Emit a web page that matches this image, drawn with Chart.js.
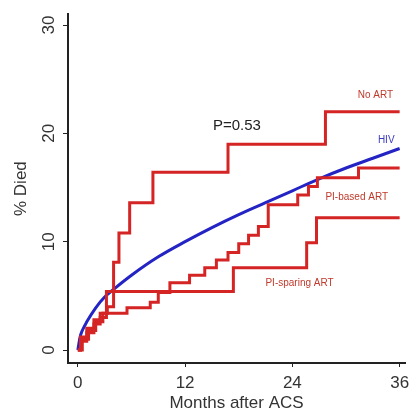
<!DOCTYPE html>
<html>
<head>
<meta charset="utf-8">
<script src="https://cdn.jsdelivr.net/npm/chart.js@4/dist/chart.umd.min.js"></script>
<style>
  html, body { margin: 0; padding: 0; background: #fff; }
  #wrap { width: 409px; height: 412px; }
</style>
</head>
<body>
<div id="wrap"><canvas id="myChart"></canvas></div>
<script>
// Cumulative % died (months after ACS)
const noArtMonths = [0, 0.3, 1.0, 1.8, 2.5, 3.3, 4.0, 4.6, 5.8, 8.4, 16.8, 27.7, 36];
const noArtValues = [0, 1.2, 2.0, 2.8, 3.4, 4.0, 8.1, 10.8, 13.6, 16.4, 19.0, 22.0, 22.0];

const piBasedMonths = [0, 0.5, 1.2, 2.0, 2.8, 5.5, 8.1, 9.0, 10.3, 12.5, 14.2, 15.5, 16.8, 18.0, 19.1, 20.2, 21.3, 24.6, 25.8, 26.8, 31.4, 36];
const piBasedValues = [0, 1.0, 1.8, 2.6, 3.4, 3.9, 4.4, 5.3, 6.2, 6.9, 7.6, 8.3, 9.0, 9.8, 10.6, 11.4, 13.4, 14.3, 15.1, 15.9, 16.8, 16.8];

const piSparingMonths = [0, 0.3, 1.0, 1.8, 2.5, 3.2, 17.4, 25.6, 26.7, 36];
const piSparingValues = [0, 0.8, 1.6, 2.4, 3.0, 5.4, 7.6, 9.9, 12.2, 12.2];

const hivMonths = [0, 0.25, 0.5, 1, 2, 3, 4, 6, 9, 12, 15, 18, 21, 24, 27, 30, 33, 36];
const hivValues = [0, 1.2, 1.8, 2.6, 3.9, 4.9, 5.6, 6.9, 8.6, 10.0, 11.3, 12.5, 13.6, 14.7, 15.8, 16.8, 17.7, 18.6];

const xTicks = [0, 12, 24, 36];
const yTicks = [0, 10, 20, 30];

function toPoints(xs, ys) {
    return xs.map((x, i) => ({ x: x, y: ys[i] }));
}

const red = '#d42424';
const blue = '#2424c4';
const axisColor = '#222';
const textColor = '#333';

// curve labels and p-value, placed in data units
const notes = {
    id: 'notes',
    afterDatasetsDraw(chart) {
        const ctx = chart.ctx;
        const x = chart.scales.x, y = chart.scales.y;
        const items = [
            { t: 'P=0.53', mx: 17.8, v: 20.7, c: '#222', f: '15px "Liberation Sans"' },
            { t: 'No ART', mx: 33.3, v: 23.5, c: '#c0392b', f: '10px "Liberation Sans"' },
            { t: 'HIV', mx: 34.5, v: 19.4, c: '#3a3ac0', f: '10px "Liberation Sans"' },
            { t: 'PI-based ART', mx: 31.2, v: 14.1, c: '#c0392b', f: '10px "Liberation Sans"' },
            { t: 'PI-sparing ART', mx: 24.8, v: 6.2, c: '#c0392b', f: '10px "Liberation Sans"' }
        ];
        ctx.save();
        ctx.textAlign = 'center';
        ctx.textBaseline = 'middle';
        items.forEach(it => {
            ctx.font = it.f;
            ctx.fillStyle = it.c;
            ctx.fillText(it.t, x.getPixelForValue(it.mx), y.getPixelForValue(it.v));
        });
        ctx.restore();
    }
};

// Kaplan-Meier style: hold the level, then jump at the next event time
const stepLine = (label, pts) => ({
    label: label,
    data: pts,
    borderColor: red,
    borderWidth: 3,
    pointRadius: 0,
    stepped: 'before',
    fill: false
});

const data = {
    datasets: [
        stepLine('No ART', toPoints(noArtMonths, noArtValues)),
        stepLine('PI-based ART', toPoints(piBasedMonths, piBasedValues)),
        stepLine('PI-sparing ART', toPoints(piSparingMonths, piSparingValues)),
        {
            label: 'HIV',
            data: toPoints(hivMonths, hivValues),
            borderColor: blue,
            borderWidth: 3,
            pointRadius: 0,
            cubicInterpolationMode: 'monotone',
            fill: false
        }
    ]
};

const config = {
    type: 'line',
    data: data,
    options: {
        responsive: true,
        maintainAspectRatio: false,
        animation: false,
        layout: { padding: { top: 14, right: 4, left: 0, bottom: 0 } },
        plugins: {
            legend: { display: false },
            tooltip: { enabled: false }
        },
        scales: {
            x: {
                type: 'linear',
                min: -1.1,
                max: 36.6,
                afterBuildTicks: (s) => { s.ticks = xTicks.map(v => ({ value: v })); },
                afterFit: (s) => { s.height = 49; s.paddingLeft = 0; s.paddingRight = 0; },
                grid: { drawOnChartArea: false, drawTicks: true, tickLength: 4, color: axisColor },
                border: { color: axisColor, width: 2 },
                ticks: { color: textColor, font: { family: 'Liberation Sans', size: 17 }, padding: 6, maxRotation: 0 },
                title: { display: true, text: 'Months after ACS', color: textColor, font: { family: 'Liberation Sans', size: 17, lineHeight: 1 }, padding: { top: 0, bottom: 0 } }
            },
            y: {
                type: 'linear',
                min: -1.2,
                max: 31,
                afterBuildTicks: (s) => { s.ticks = yTicks.map(v => ({ value: v })); },
                afterFit: (s) => { s.width = 68; },
                grid: { drawOnChartArea: false, drawTicks: true, tickLength: 5, color: axisColor },
                border: { color: axisColor, width: 2 },
                ticks: { color: textColor, font: { family: 'Liberation Sans', size: 17 }, padding: 4, minRotation: 90, maxRotation: 90, crossAlign: 'center' },
                title: { display: true, text: '% Died', color: textColor, font: { family: 'Liberation Sans', size: 17 }, padding: { top: 11, bottom: 0 } }
            }
        }
    },
    plugins: [notes]
};

const myChart = new Chart(document.getElementById('myChart'), config);
</script>
</body>
</html>
